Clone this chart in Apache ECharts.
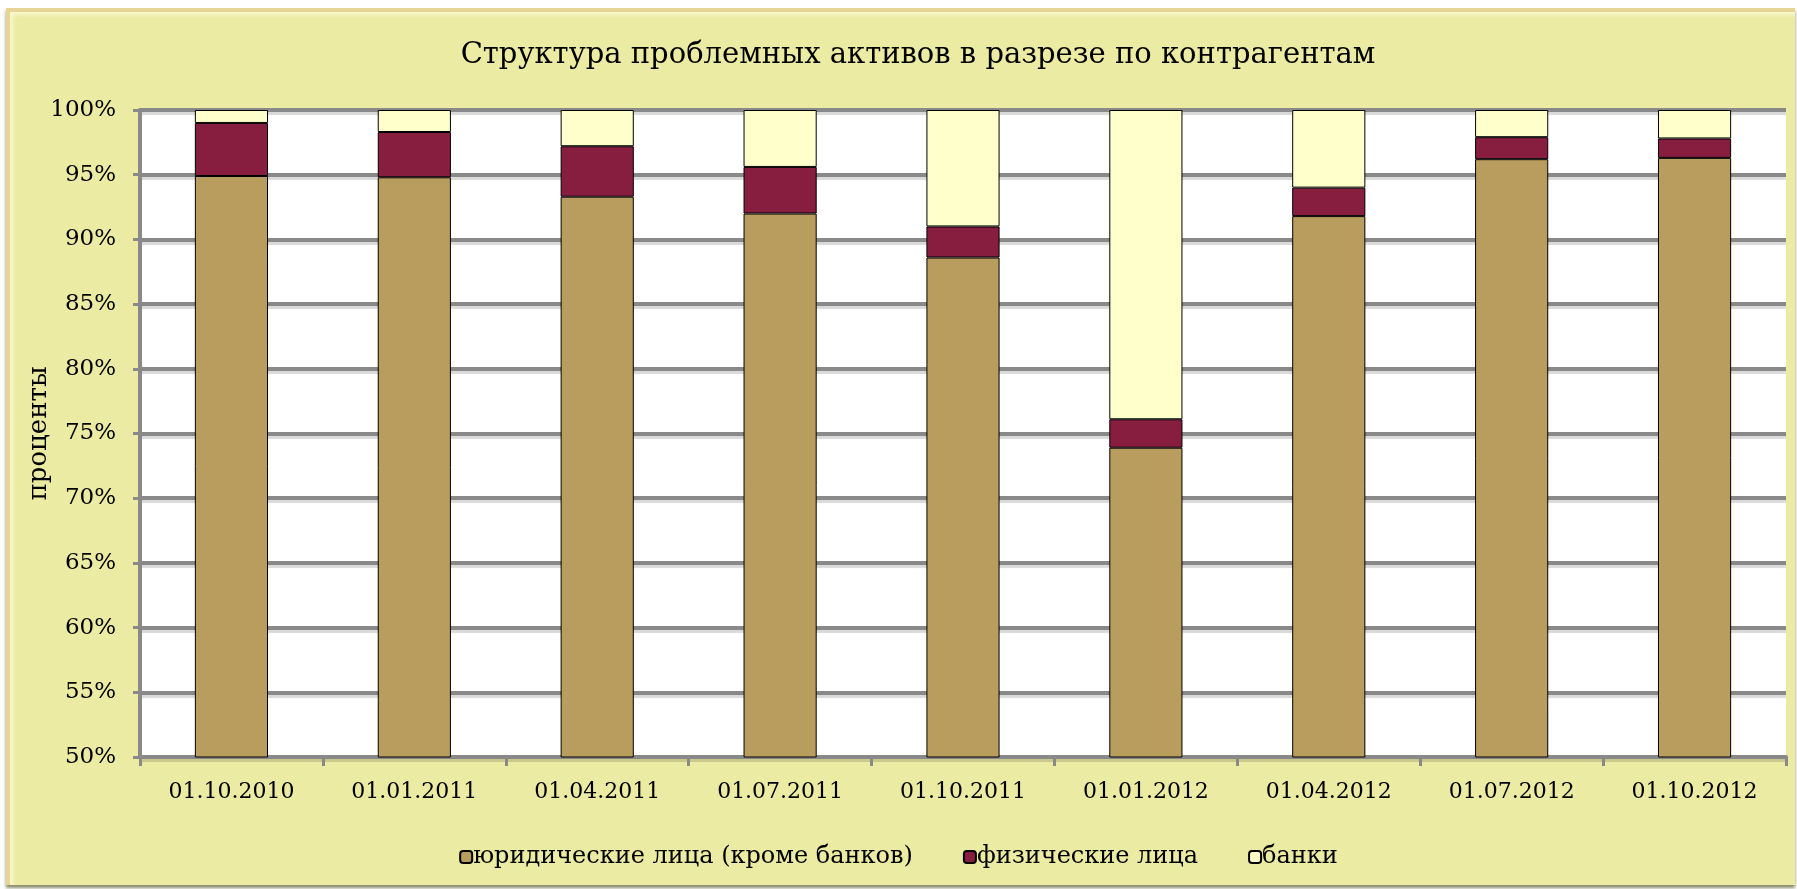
<!DOCTYPE html>
<html>
<head>
<meta charset="utf-8">
<script src="https://cdn.jsdelivr.net/npm/echarts@6/dist/echarts.min.js"></script>
<style>
  html, body { margin: 0; padding: 0; background: #fff; }
  .frame {
    position: absolute; left: 6px; top: 8px; width: 1785px; height: 873px;
    background: #ebeba3;
    border-top: 4px solid #e6d594; border-left: 4px solid #e6d594;
    box-shadow: inset 3px 3px 4px #f8f8d0, 0 3px 3px #8a8a6a;
  }
  #chart { position: absolute; left: 0; top: 0; width: 1797px; height: 889px; }
</style>
</head>
<body>
<div class="frame"></div>
<div id="chart"></div>
<script>
// даты отчетности
const categories = ['01.10.2010', '01.01.2011', '01.04.2011', '01.07.2011', '01.10.2011',
  '01.01.2012', '01.04.2012', '01.07.2012', '01.10.2012'];
// доли, %
const legalEntities = [94.9, 94.8, 93.3, 92.0, 88.6, 73.9, 91.8, 96.2, 96.3];
const individuals = [4.1, 3.5, 3.9, 3.6, 2.4, 2.2, 2.2, 1.7, 1.5];
const banks = [1.0, 1.7, 2.8, 4.4, 9.0, 23.9, 6.0, 2.1, 2.2];
const seriesNames = ['юридические лица (кроме банков)', 'физические лица', 'банки'];
const yTicks = [50, 55, 60, 65, 70, 75, 80, 85, 90, 95, 100];

const font = '"DejaVu Serif", "Liberation Serif", serif';
const chart = echarts.init(document.getElementById('chart'));

function barSeries(name, data, color) {
  return {
    name: name,
    type: 'bar',
    stack: 'total',
    barWidth: '40%',
    data: data,
    itemStyle: { color: color, borderColor: '#000', borderWidth: 1 }
  };
}

const option = {
  animation: false,
  textStyle: { fontFamily: font, color: '#000' },
  title: {
    text: 'Структура проблемных активов в разрезе по контрагентам',
    left: 913, top: 36, textAlign: 'center',
    textStyle: { fontFamily: font, fontSize: 29, fontWeight: 'normal', color: '#000' }
  },
  legend: {
    data: seriesNames,
    left: 'center', top: 840,
    itemWidth: 12, itemHeight: 12, itemGap: 50,
    textStyle: { fontFamily: font, fontSize: 24, color: '#000', padding: [0, 0, 0, -4] }
  },
  grid: {
    left: 140, right: 11, top: 110, bottom: 132,
    show: true, backgroundColor: '#fff', borderWidth: 0
  },
  xAxis: {
    type: 'category',
    data: categories,
    axisLine: { lineStyle: { color: '#898989', width: 4 } },
    axisTick: { show: true, length: 9, lineStyle: { color: '#898989', width: 3 } },
    axisLabel: { fontFamily: font, fontSize: 22, color: '#000', margin: 24 }
  },
  yAxis: {
    type: 'value',
    min: 50, max: 100, interval: 5,
    name: 'проценты',
    nameLocation: 'middle', nameGap: 88, nameRotate: 90,
    nameMoveOverlap: false,
    nameTextStyle: { fontFamily: font, fontSize: 26, color: '#000' },
    axisLine: { show: true, lineStyle: { color: '#898989', width: 4 } },
    axisTick: { show: true, length: 7, lineStyle: { color: '#898989', width: 3 } },
    axisLabel: {
      fontFamily: font, fontSize: 23, color: '#000', margin: 24,
      formatter: function (v) { return yTicks.indexOf(v) >= 0 ? v + '%' : ''; }
    },
    splitLine: {
      lineStyle: { color: '#898989', width: 4, shadowColor: 'rgba(0,0,0,0.15)', shadowOffsetY: 3, shadowBlur: 1 }
    }
  },
  series: [
    barSeries(seriesNames[0], legalEntities, '#b99d5e'),
    barSeries(seriesNames[1], individuals, '#871e40'),
    barSeries(seriesNames[2], banks, '#ffffcc')
  ]
};

chart.setOption(option);
window.addEventListener('resize', function () { chart.resize(); });
</script>
</body>
</html>
